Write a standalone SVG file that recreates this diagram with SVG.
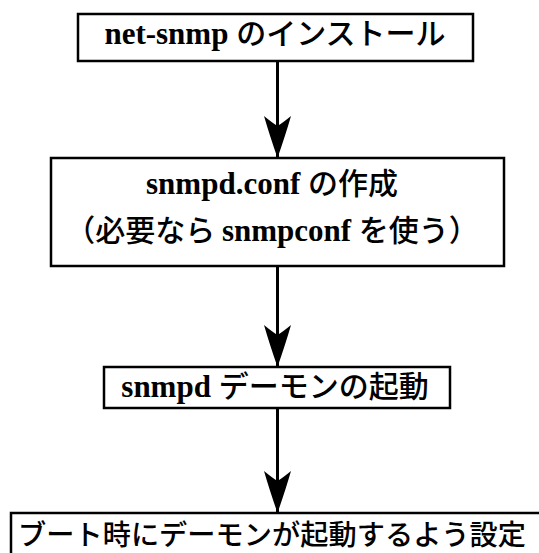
<svg xmlns="http://www.w3.org/2000/svg" width="539" height="553" viewBox="0 0 539 553">
  <style>
    .box { fill: #ffffff; stroke: #000000; stroke-width: 2.5; }
    .lbl { font-family: "Noto Sans CJK JP", "Noto Sans", sans-serif; font-weight: 500; font-size: 30px; fill: #000000; text-anchor: middle; }
    .lat { font-family: "Liberation Serif", "Noto Sans CJK JP", serif; font-weight: bold; font-size: 31px; }
    .edge { stroke: #000000; stroke-width: 3; fill: none; marker-end: url(#ah); }
  </style>
  <defs>
    <marker id="ah" markerUnits="userSpaceOnUse" markerWidth="44" markerHeight="30" viewBox="0 0 44 30" refX="43" refY="15" orient="auto">
      <path d="M43,15 Q20,7 1,1.5 Q8,10 11,15 Q8,20 1,28.5 Q20,23 43,15 Z" fill="#000000"/>
    </marker>
  </defs>
  <rect width="539" height="553" fill="#ffffff"/>
  <g id="connectors">
    <line class="edge" x1="277.5" y1="61" x2="277.5" y2="158"/>
    <line class="edge" x1="277.5" y1="266" x2="277.5" y2="367"/>
    <line class="edge" x1="277.5" y1="408" x2="277.5" y2="513"/>
  </g>
  <g id="node1">
    <rect class="box" x="78" y="14" width="395" height="47"/>
    <text class="lbl" x="275" y="44"><tspan class="lat">net-snmp </tspan>のインストール</text>
  </g>
  <g id="node2">
    <rect class="box" x="51" y="158" width="453" height="108"/>
    <text class="lbl" x="272" y="194"><tspan class="lat">snmpd.conf </tspan>の作成</text>
    <text class="lbl" x="272" y="241">（必要なら <tspan class="lat">snmpconf </tspan>を使う）</text>
  </g>
  <g id="node3">
    <rect class="box" x="104" y="367" width="346" height="41"/>
    <text class="lbl" x="275" y="397"><tspan class="lat">snmpd </tspan>デーモンの起動</text>
  </g>
  <g id="node4">
    <rect class="box" x="11" y="513" width="540" height="50"/>
    <text class="lbl" x="18" y="545" style="text-anchor:start; font-size:28.2px" textLength="508" lengthAdjust="spacing">ブート時にデーモンが起動するよう設定</text>
  </g>
</svg>
